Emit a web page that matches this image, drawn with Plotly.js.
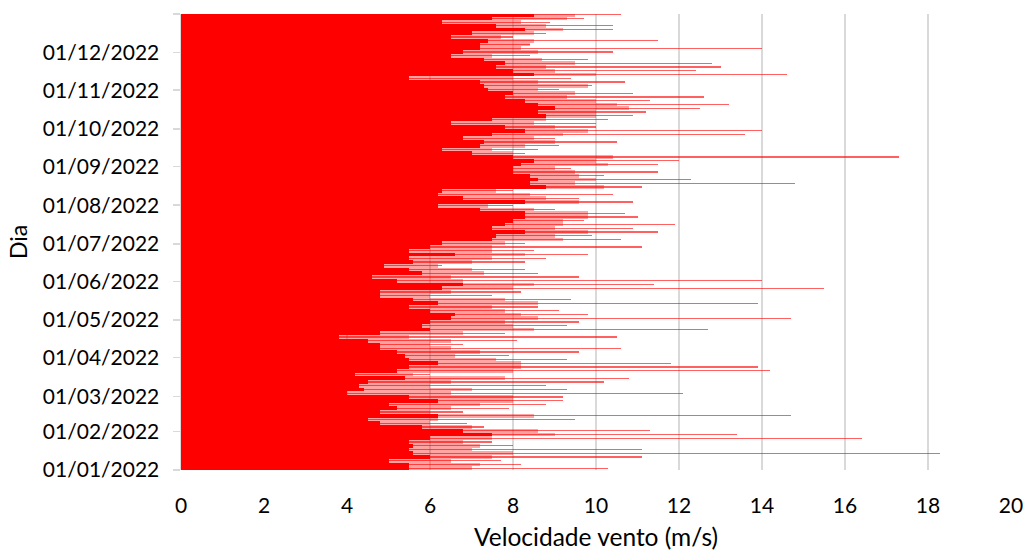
<!DOCTYPE html>
<html>
<head>
<meta charset="utf-8">
<script src="https://cdn.plot.ly/plotly-3.0.1.min.js"></script>
<style>html,body{margin:0;padding:0;background:#fff;}#chart{width:1024px;height:554px;}</style>
</head>
<body>
<div id="chart"></div>
<script>
// Wind speed (m/s), in 3-day blocks starting 01/01/2022
// solidSpeed: level up to which the bar band is fully red (lowest readings in the block)
const solidSpeed = [
5.5,5.5,5.0,6.0,5.6,5.5,5.6,5.5,6.0,7.5,6.8,5.8,4.8,4.5,6.2,4.8,5.2,5.0,6.2,5.5,
4.0,4.4,4.3,4.5,5.4,4.2,5.2,5.5,6.2,5.5,5.4,5.2,4.8,4.8,4.5,3.8,4.8,6.0,5.8,6.0,
6.5,6.6,6.0,5.5,6.2,5.6,4.8,4.8,6.3,6.8,5.2,4.6,5.8,5.5,4.9,5.6,5.5,6.6,5.5,6.0,
6.3,7.5,7.6,8.3,7.5,7.8,8.0,8.3,8.3,7.2,6.2,8.3,6.8,6.2,6.3,8.8,8.4,8.6,8.4,8.0,
8.0,8.2,8.5,8.0,7.0,6.3,7.2,7.3,6.8,7.5,8.3,7.8,6.5,7.5,8.8,8.6,9.0,8.6,8.3,7.8,
8.0,7.4,7.3,7.2,5.5,8.5,8.0,7.6,7.8,7.3,6.5,6.8,7.2,7.2,7.4,6.5,7.0,8.3,7.6,6.3,
7.5,8.5
];
// typicalHigh: extent of the pink fringe (typical upper readings in the block)
const typicalHigh = [
7.0,7.2,6.5,7.5,8.0,7.0,7.2,6.8,7.5,9.0,8.6,7.0,6.0,6.2,8.5,6.0,6.5,7.2,8.0,8.0,
6.5,7.0,6.0,6.5,7.8,5.6,8.0,8.2,8.2,7.6,6.6,7.2,6.5,6.0,6.5,5.5,6.8,8.5,8.0,7.8,
8.6,8.2,7.8,7.5,8.6,7.8,6.0,6.5,8.0,8.5,6.8,6.5,7.3,7.0,6.2,7.0,7.5,8.3,7.5,7.5,
7.8,9.2,9.0,9.8,9.0,9.2,9.2,9.8,9.8,8.5,7.4,9.6,8.8,8.4,7.6,10.2,9.5,10.0,9.6,9.5,
9.0,10.3,10.0,10.4,8.0,7.5,8.3,9.0,8.5,9.2,9.8,9.0,8.5,8.8,10.0,10.0,10.8,10.5,10.0,9.3,
9.5,8.6,9.8,8.6,8.0,10.0,9.0,8.8,9.5,8.7,7.5,8.6,8.2,8.4,8.5,7.7,8.5,9.2,8.8,8.2,
9.3,9.5
];
// peakSpeed: longest single reading in the block
const peakSpeed = [
10.3,8.2,7.7,11.1,18.3,11.1,8.0,7.5,16.4,13.4,11.3,7.3,6.9,9.5,14.7,6.8,7.9,8.8,9.2,9.2,
12.1,9.3,8.8,10.2,10.8,6.0,14.2,13.9,11.8,9.3,7.9,9.6,10.6,6.8,8.1,10.5,7.8,12.7,9.3,9.6,
14.7,9.8,9.1,8.6,13.9,9.4,7.5,8.2,15.5,11.4,14.0,9.6,8.6,8.3,6.3,8.3,8.8,9.8,8.5,11.1,
8.3,10.6,9.9,11.5,10.9,11.9,9.7,11.0,10.7,9.0,8.0,10.9,9.6,10.4,8.0,11.1,14.8,12.3,10.2,11.5,
9.4,11.5,12.0,17.3,8.3,8.6,9.1,10.5,9.0,13.6,14.0,10.0,10.0,10.3,10.9,11.2,12.5,13.2,11.3,12.6,
10.9,9.1,9.9,10.7,9.4,14.6,12.4,13.0,12.8,9.8,8.4,10.4,14.0,8.4,11.5,8.0,8.8,10.4,10.4,8.9,
9.7,10.6
];
// axis tick labels
const tickDates = ['2022-01-01','2022-02-01','2022-03-01','2022-04-01','2022-05-01','2022-06-01',
  '2022-07-01','2022-08-01','2022-09-01','2022-10-01','2022-11-01','2022-12-01','2023-01-01'];
const tickLabels = ['01/01/2022','01/02/2022','01/03/2022','01/04/2022','01/05/2022','01/06/2022',
  '01/07/2022','01/08/2022','01/09/2022','01/10/2022','01/11/2022','01/12/2022',''];

const DAY = 86400000;
const BLOCK = 3;
const t0 = Date.UTC(2022, 0, 1);
function fmt(ms){
  const d = new Date(ms);
  const p = n => String(n).padStart(2,'0');
  return d.getUTCFullYear()+'-'+p(d.getUTCMonth()+1)+'-'+p(d.getUTCDate())+' '+p(d.getUTCHours())+':'+p(d.getUTCMinutes())+':00';
}
const blockDates = solidSpeed.map((_, i) => fmt(t0 + (i*BLOCK + BLOCK/2)*DAY));

const traces = [
  {type:'bar', orientation:'h', x: typicalHigh, y: blockDates, width: BLOCK*DAY,
   marker:{color:'rgba(255,0,0,0.36)', line:{width:0}}, hoverinfo:'skip'},
  {type:'bar', orientation:'h', x: peakSpeed, y: blockDates, width: 1.0*DAY,
   marker:{color:'rgba(255,0,0,0.62)', line:{width:0}}, hoverinfo:'skip'},
  {type:'bar', orientation:'h', x: solidSpeed, y: blockDates, width: BLOCK*DAY,
   marker:{color:'#FF0000', line:{width:0}}, hoverinfo:'skip'}
];

const FONT = 'Lato, "Open Sans", sans-serif';
const layout = {
  width:1024, height:554,
  margin:{l:181, r:13, t:14, b:84, pad:0},
  paper_bgcolor:'#fff', plot_bgcolor:'#fff',
  showlegend:false, barmode:'overlay', bargap:0,
  font:{family:FONT, color:'#000', size:21},
  xaxis:{
    range:[0,20], tickmode:'linear', tick0:0, dtick:2,
    showgrid:true, gridcolor:'#d9d9d9', gridwidth:1.6,
    zeroline:false, showline:false, ticks:'',
    ticklabelstandoff:21,
    tickfont:{family:FONT, size:21, color:'#000'},
    title:{text:'Velocidade vento (m/s)', font:{family:FONT, size:24.5, color:'#000'}, standoff:12},
    layer:'below traces'
  },
  yaxis:{
    type:'date', range:['2022-01-01','2023-01-01'],
    tickmode:'array', tickvals:tickDates, ticktext:tickLabels,
    showgrid:false, zeroline:false,
    showline:true, linecolor:'#d9d9d9', linewidth:1.5,
    ticks:'outside', ticklen:7, tickcolor:'#d9d9d9', tickwidth:1.5,
    ticklabelstandoff:9,
    tickfont:{family:FONT, size:21, color:'#000'},
    title:{text:'Dia', font:{family:FONT, size:23, color:'#000'}, standoff:9}
  }
};

Plotly.newPlot('chart', traces, layout, {staticPlot:true, displayModeBar:false});
</script>
</body>
</html>
